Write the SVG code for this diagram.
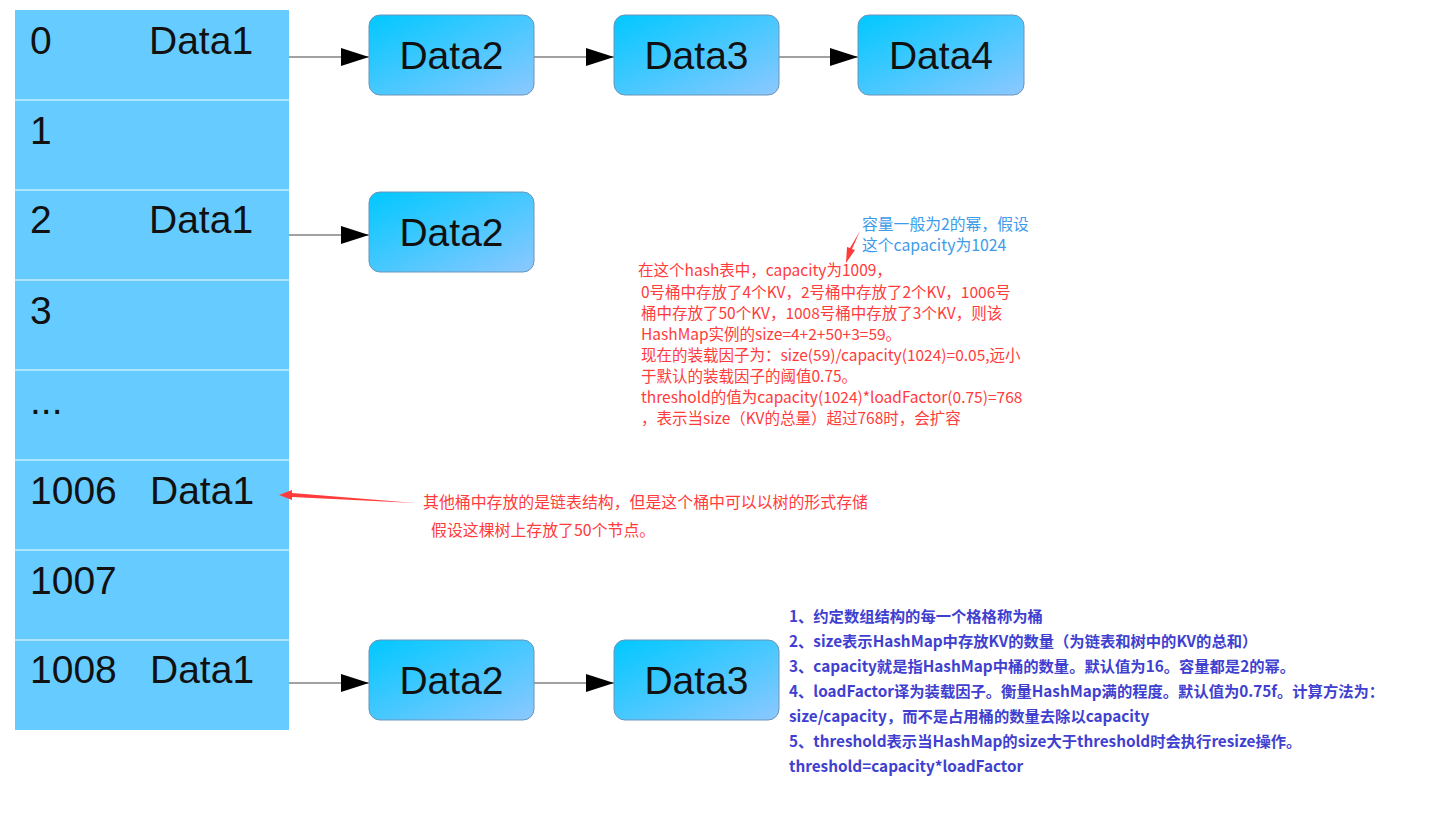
<svg xmlns="http://www.w3.org/2000/svg" width="1434" height="817" viewBox="0 0 1434 817">
<style>
.cell{fill:#66ccff;}
.sep{stroke:#c8ecff;stroke-width:1.5;}
.big{font-family:"Liberation Sans",Arial,sans-serif;font-size:39px;fill:#111;}
.node rect{fill:url(#g);stroke:#6a94b8;stroke-width:1;}
.conn{stroke:#444;stroke-width:1.2;fill:none;marker-end:url(#ah);}
.red{font-family:"Noto Sans CJK SC","Noto Sans",sans-serif;font-size:15.5px;fill:#ff3b3b;}
.tree{font-size:15.9px;}
.note{font-family:"Noto Sans CJK SC","Noto Sans",sans-serif;font-size:15.8px;fill:#3d9be9;}
.blue{font-family:"Noto Sans CJK SC","Noto Sans",sans-serif;font-size:15.3px;font-weight:bold;fill:#4040d0;}
</style>
<defs>
<linearGradient id="g" x1="0" y1="0" x2="1" y2="1">
<stop offset="0" stop-color="#00c8ff"/>
<stop offset="1" stop-color="#8cc8ff"/>
</linearGradient>
<marker id="ah" markerWidth="28" markerHeight="20" refX="28" refY="10" orient="auto" markerUnits="userSpaceOnUse">
<path d="M0,1 L28,10 L0,19 Z" fill="#000"/>
</marker>
</defs>
<rect width="1434" height="817" fill="#fff"/>
<g id="table">
<rect class="cell" x="15" y="10" width="274" height="720"/>
<line class="sep" x1="15" y1="100" x2="289" y2="100"/>
<line class="sep" x1="15" y1="190" x2="289" y2="190"/>
<line class="sep" x1="15" y1="280" x2="289" y2="280"/>
<line class="sep" x1="15" y1="370" x2="289" y2="370"/>
<line class="sep" x1="15" y1="460" x2="289" y2="460"/>
<line class="sep" x1="15" y1="550" x2="289" y2="550"/>
<line class="sep" x1="15" y1="640" x2="289" y2="640"/>
<text class="big" x="30" y="54">0</text><text class="big" x="149" y="54">Data1</text>
<text class="big" x="30" y="144">1</text>
<text class="big" x="30" y="233">2</text><text class="big" x="149" y="233">Data1</text>
<text class="big" x="30" y="324">3</text>
<text class="big" x="30" y="414">...</text>
<text class="big" x="30" y="504">1006</text><text class="big" x="150" y="504">Data1</text>
<text class="big" x="30" y="594">1007</text>
<text class="big" x="30" y="683">1008</text><text class="big" x="150" y="683">Data1</text>
</g>
<g id="connectors">
<line class="conn" x1="289" y1="57" x2="369" y2="57"/>
<line class="conn" x1="534" y1="57" x2="614" y2="57"/>
<line class="conn" x1="779" y1="57" x2="858" y2="57"/>
<line class="conn" x1="289" y1="235" x2="369" y2="235"/>
<line class="conn" x1="289" y1="683" x2="369" y2="683"/>
<line class="conn" x1="534" y1="683" x2="614" y2="683"/>
</g>
<g id="n0-2" class="node"><rect x="369" y="15" width="165" height="80" rx="11"/><text class="big" x="451.5" y="69" text-anchor="middle">Data2</text></g>
<g id="n0-3" class="node"><rect x="614" y="15" width="165" height="80" rx="11"/><text class="big" x="696.5" y="69" text-anchor="middle">Data3</text></g>
<g id="n0-4" class="node"><rect x="858" y="15" width="166" height="80" rx="11"/><text class="big" x="941" y="69" text-anchor="middle">Data4</text></g>
<g id="n2-2" class="node"><rect x="369" y="192" width="165" height="80" rx="11"/><text class="big" x="451.5" y="246" text-anchor="middle">Data2</text></g>
<g id="n1008-2" class="node"><rect x="369" y="640" width="165" height="80" rx="11"/><text class="big" x="451.5" y="694" text-anchor="middle">Data2</text></g>
<g id="n1008-3" class="node"><rect x="614" y="640" width="165" height="80" rx="11"/><text class="big" x="696.5" y="694" text-anchor="middle">Data3</text></g>
<g id="capacity-note">
<text class="note" x="862" y="230">容量一般为2的幂，假设</text>
<text class="note" x="862" y="251">这个capacity为1024</text>
<path d="M860,231 L852,249 L855,250 L846,263 L847,247 L850,248 Z" fill="#ff3b3b"/>
</g>
<g id="red-note">
<text class="red" x="638" y="276">在这个hash表中，capacity为1009，</text>
<text class="red" x="641" y="298">0号桶中存放了4个KV，2号桶中存放了2个KV，1006号</text>
<text class="red" x="641" y="319">桶中存放了50个KV，1008号桶中存放了3个KV，则该</text>
<text class="red" x="641" y="340">HashMap实例的size=4+2+50+3=59。</text>
<text class="red" x="641" y="361">现在的装载因子为：size(59)/capacity(1024)=0.05,远小</text>
<text class="red" x="641" y="382">于默认的装载因子的阈值0.75。</text>
<text class="red" x="641" y="403">threshold的值为capacity(1024)*loadFactor(0.75)=768</text>
<text class="red" x="641" y="424">，表示当size（KV的总量）超过768时，会扩容</text>
</g>
<g id="tree-note">
<path d="M415,503 L292,497 L292,500 L279,495 L292,490 L292,493 Z" fill="#ff3b3b"/>
<text class="red tree" x="423" y="508">其他桶中存放的是链表结构，但是这个桶中可以以树的形式存储</text>
<text class="red tree" x="431" y="536">假设这棵树上存放了50个节点。</text>
</g>
<g id="legend">
<text class="blue" x="789" y="622">1、约定数组结构的每一个格格称为桶</text>
<text class="blue" x="789" y="647">2、size表示HashMap中存放KV的数量（为链表和树中的KV的总和）</text>
<text class="blue" x="789" y="672">3、capacity就是指HashMap中桶的数量。默认值为16。容量都是2的幂。</text>
<text class="blue" x="789" y="697">4、loadFactor译为装载因子。衡量HashMap满的程度。默认值为0.75f。计算方法为：</text>
<text class="blue" x="789" y="722">size/capacity，而不是占用桶的数量去除以capacity</text>
<text class="blue" x="789" y="747">5、threshold表示当HashMap的size大于threshold时会执行resize操作。</text>
<text class="blue" x="789" y="772">threshold=capacity*loadFactor</text>
</g>
</svg>
